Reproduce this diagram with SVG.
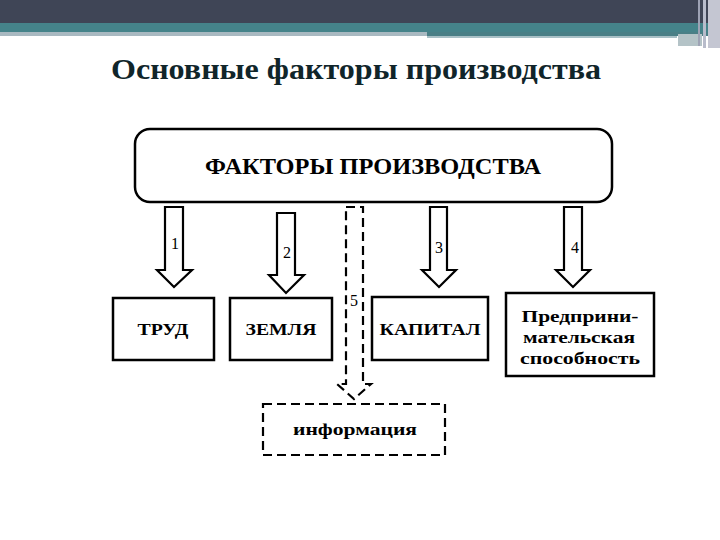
<svg xmlns="http://www.w3.org/2000/svg" width="720" height="540" viewBox="0 0 720 540">
<style>
.box{fill:#fff;stroke:#000;stroke-width:2.5}
.arr{fill:#fff;stroke:#000;stroke-width:2.2;stroke-linejoin:miter}
.dash{fill:none;stroke:#000;stroke-width:2.2;stroke-dasharray:9,5}
.t{font-family:"Liberation Serif","Times New Roman",serif;font-weight:bold;fill:#000;text-anchor:middle}
.n{font-family:"Liberation Serif","Times New Roman",serif;font-size:16px;fill:#000;text-anchor:middle}
</style>
<g id="header">
<rect x="0" y="0" width="720" height="24" fill="#3f4556"/>
<rect x="0" y="23" width="720" height="10" fill="#45838a"/>
<rect x="0" y="32" width="427" height="4" fill="#a9b9c1"/>
<rect x="427" y="32" width="293" height="4" fill="#4a7f86"/>
<rect x="427" y="36" width="250" height="2" fill="#a9c0c6"/>
<rect x="678" y="34" width="24" height="12" fill="#b4c3c7"/>
<rect x="698" y="0" width="2" height="46" fill="#9ea3b5"/>
<rect x="703" y="0" width="3" height="48" fill="#b8bccb"/>
<rect x="708" y="0" width="12" height="48" fill="#c4c6d2"/>
</g>
<text id="title" x="356" y="79" class="t" font-size="30" style="fill:#10252a" textLength="490" lengthAdjust="spacingAndGlyphs">Основные факторы производства</text>
<g id="factors">
<rect x="135" y="129" width="477" height="73" rx="15" class="box"/>
<text x="373" y="174" class="t" font-size="23" textLength="336" lengthAdjust="spacingAndGlyphs">ФАКТОРЫ ПРОИЗВОДСТВА</text>
</g>
<g id="connectors">
<polygon class="arr" points="165,207 183,207 183,270 192,270 174,287 157,270 165,270"/>
<text x="175" y="249" class="n">1</text>
<polygon class="arr" points="277,213 295,213 295,275 304,275 286,293 269,275 277,275"/>
<text x="287" y="258" class="n">2</text>
<polygon class="arr" points="430,207 447,207 447,270 456,270 439,287 422,270 430,270"/>
<text x="439" y="253" class="n">3</text>
<polygon class="arr" points="564,207 582,207 582,270 590,270 573,287 556,270 564,270"/>
<text x="575" y="253" class="n">4</text>
<polygon class="dash" points="346,207 363,207 363,384 371,384 354,399 337,384 346,384"/>
<text x="354" y="306" class="n">5</text>
</g>
<g id="trud">
<rect x="113" y="298" width="101" height="62" class="box"/>
<text x="163" y="335" class="t" font-size="17" textLength="51" lengthAdjust="spacingAndGlyphs">ТРУД</text>
</g>
<g id="zemlya">
<rect x="230" y="298" width="102" height="62" class="box"/>
<text x="281" y="335" class="t" font-size="17" textLength="71" lengthAdjust="spacingAndGlyphs">ЗЕМЛЯ</text>
</g>
<g id="kapital">
<rect x="372" y="297" width="116" height="63" class="box"/>
<text x="430" y="335" class="t" font-size="17" textLength="101" lengthAdjust="spacingAndGlyphs">КАПИТАЛ</text>
</g>
<g id="predpr">
<rect x="506" y="293" width="148" height="83" class="box"/>
<text x="580" y="322" class="t" font-size="17" textLength="117" lengthAdjust="spacingAndGlyphs">Предприни-</text>
<text x="579" y="343" class="t" font-size="17" textLength="112" lengthAdjust="spacingAndGlyphs">мательская</text>
<text x="580" y="364" class="t" font-size="17" textLength="120" lengthAdjust="spacingAndGlyphs">способность</text>
</g>
<g id="informaciya">
<rect x="263" y="404" width="182" height="51" class="dash"/>
<text x="355" y="435" class="t" font-size="17" textLength="124" lengthAdjust="spacingAndGlyphs">информация</text>
</g>
</svg>
